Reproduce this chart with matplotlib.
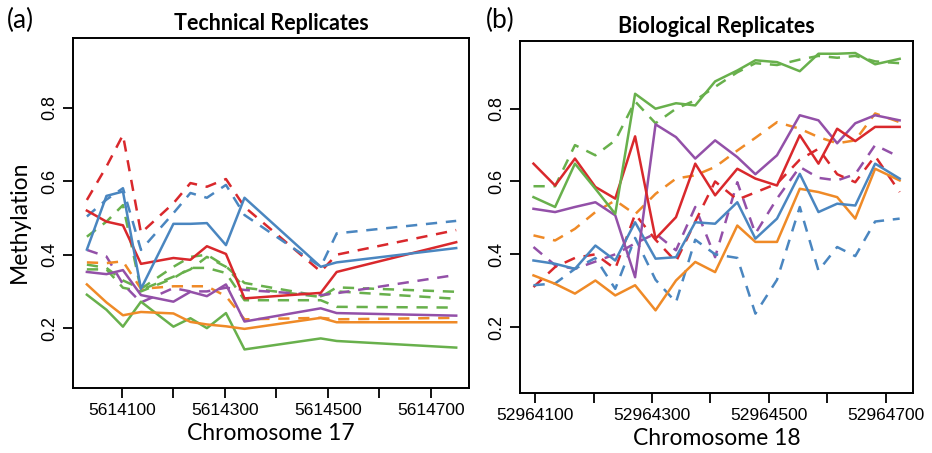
import numpy as np
import matplotlib.pyplot as plt

# CpG positions
pos_tech = [5614032, 5614070, 5614102, 5614137, 5614200, 5614233, 5614265,
            5614302, 5614338, 5614486, 5614517, 5614749]
pos_bio = [52964097, 52964134, 52964168, 52964203, 52964237, 52964271, 52964306,
           52964341, 52964374, 52964408, 52964446, 52964477, 52964514, 52964553,
           52964585, 52964617, 52964648, 52964682, 52964724]

# technical replicates (solid = rep 1, dashed = rep 2)
tech_red_1 = [0.520, 0.490, 0.480, 0.375, 0.391, 0.386, 0.423, 0.402, 0.281, 0.296, 0.353, 0.434]
tech_red_2 = [0.549, 0.640, 0.726, 0.459, 0.540, 0.595, 0.585, 0.606, 0.530, 0.354, 0.400, 0.467]
tech_blue_1 = [0.414, 0.560, 0.572, 0.307, 0.484, 0.484, 0.486, 0.426, 0.555, 0.367, 0.379, 0.418]
tech_blue_2 = [0.504, 0.550, 0.581, 0.413, 0.513, 0.568, 0.555, 0.590, 0.508, 0.367, 0.458, 0.492]
tech_green_1 = [0.291, 0.250, 0.204, 0.272, 0.204, 0.227, 0.200, 0.241, 0.142, 0.172, 0.165, 0.147]
tech_green_2 = [0.449, 0.490, 0.535, 0.304, 0.340, 0.360, 0.394, 0.367, 0.310, 0.285, 0.311, 0.299]
tech_green_3 = [0.373, 0.364, 0.330, 0.307, 0.367, 0.394, 0.400, 0.368, 0.323, 0.287, 0.300, 0.280]
tech_green_4 = [0.360, 0.360, 0.310, 0.300, 0.336, 0.364, 0.364, 0.350, 0.276, 0.276, 0.258, 0.256]
tech_purple_1 = [0.353, 0.347, 0.358, 0.290, 0.272, 0.299, 0.287, 0.319, 0.218, 0.254, 0.241, 0.234]
tech_purple_2 = [0.413, 0.395, 0.320, 0.270, 0.309, 0.300, 0.300, 0.310, 0.304, 0.290, 0.295, 0.345]
tech_orange_1 = [0.319, 0.270, 0.235, 0.244, 0.240, 0.217, 0.210, 0.205, 0.198, 0.228, 0.216, 0.216]
tech_orange_2 = [0.379, 0.377, 0.382, 0.307, 0.314, 0.314, 0.314, 0.287, 0.224, 0.228, 0.224, 0.228]

# biological replicates
bio_red_1 = [0.649, 0.589, 0.663, 0.585, 0.553, 0.724, 0.443, 0.502, 0.649, 0.562, 0.635,
             0.608, 0.589, 0.727, 0.649, 0.745, 0.711, 0.750, 0.750]
bio_red_2 = [0.310, 0.365, 0.390, 0.400, 0.360, 0.510, 0.440, 0.380, 0.490, 0.600, 0.550,
             0.570, 0.594, 0.660, 0.690, 0.620, 0.598, 0.670, 0.571]
bio_green_1 = [0.557, 0.530, 0.649, 0.580, 0.511, 0.841, 0.800, 0.815, 0.809, 0.875, 0.905,
               0.933, 0.928, 0.903, 0.951, 0.951, 0.953, 0.922, 0.937]
bio_green_2 = [0.587, 0.587, 0.700, 0.672, 0.713, 0.820, 0.760, 0.800, 0.823, 0.860, 0.900,
               0.925, 0.920, 0.935, 0.945, 0.940, 0.945, 0.930, 0.925]
bio_purple_1 = [0.525, 0.516, 0.530, 0.543, 0.507, 0.337, 0.757, 0.722, 0.663, 0.713, 0.667,
                0.620, 0.672, 0.782, 0.768, 0.705, 0.760, 0.782, 0.768]
bio_purple_2 = [0.420, 0.370, 0.360, 0.380, 0.400, 0.430, 0.457, 0.411, 0.530, 0.392, 0.598,
                0.457, 0.553, 0.640, 0.610, 0.603, 0.620, 0.700, 0.667]
bio_blue_1 = [0.383, 0.374, 0.360, 0.424, 0.383, 0.488, 0.388, 0.392, 0.488, 0.484, 0.543,
              0.443, 0.498, 0.621, 0.516, 0.539, 0.534, 0.649, 0.608]
bio_blue_2 = [0.315, 0.320, 0.360, 0.390, 0.305, 0.445, 0.330, 0.268, 0.440, 0.400, 0.390,
              0.237, 0.330, 0.530, 0.355, 0.420, 0.395, 0.490, 0.498]
bio_orange_1 = [0.342, 0.319, 0.292, 0.328, 0.287, 0.315, 0.246, 0.328, 0.379, 0.351, 0.479,
                0.434, 0.434, 0.580, 0.571, 0.557, 0.498, 0.635, 0.603]
bio_orange_2 = [0.452, 0.438, 0.470, 0.516, 0.548, 0.510, 0.566, 0.608, 0.617, 0.640, 0.685,
                0.720, 0.763, 0.745, 0.722, 0.705, 0.713, 0.787, 0.763]

red, blue, green, purple, orange = '#d9282c', '#4a86c0', '#68b04c', '#9350a8', '#ef8a27'

tech_lines = [
    (tech_green_2, green, '--'), (tech_green_3, green, '--'), (tech_green_4, green, '--'),
    (tech_purple_2, purple, '--'), (tech_orange_2, orange, '--'),
    (tech_red_2, red, '--'), (tech_blue_2, blue, '--'),
    (tech_green_1, green, '-'), (tech_orange_1, orange, '-'), (tech_purple_1, purple, '-'),
    (tech_red_1, red, '-'), (tech_blue_1, blue, '-'),
]
bio_lines = [
    (bio_green_2, green, '--'), (bio_orange_2, orange, '--'), (bio_purple_2, purple, '--'),
    (bio_red_2, red, '--'), (bio_blue_2, blue, '--'),
    (bio_orange_1, orange, '-'), (bio_blue_1, blue, '-'), (bio_purple_1, purple, '-'),
    (bio_red_1, red, '-'), (bio_green_1, green, '-'),
]

fig = plt.figure(figsize=(9.32, 4.53), dpi=100)
ax1 = fig.add_axes([0.0783, 0.1435, 0.425, 0.7726])
ax2 = fig.add_axes([0.558, 0.1325, 0.4217, 0.777])

def draw(ax, pos, lines, xlim, ylim, ticks, title, xlabel):
    for vals, col, ls in lines:
        if ls == '--':
            ax.plot(pos, vals, color=col, lw=1.8, dashes=(4.5, 3.5))
        else:
            ax.plot(pos, vals, color=col, lw=1.8)
    ax.set_xlim(*xlim)
    ax.set_ylim(*ylim)
    ax.set_xticks(ticks)
    ax.set_xticklabels([str(t) if i % 2 == 0 else '' for i, t in enumerate(ticks)],
                       family='Liberation Sans', fontsize=12.5)
    ax.set_yticks([0.2, 0.4, 0.6, 0.8])
    ax.set_yticklabels(['0.2', '0.4', '0.6', '0.8'], rotation=90, va='center',
                       family='Liberation Sans', fontsize=13)
    ax.tick_params(direction='out', length=7, width=1.3, colors='black')
    for s in ax.spines.values():
        s.set_linewidth(1.4)
    ax.set_title(title, fontsize=15.5, fontweight='bold', family='Lato', pad=6)
    ax.set_xlabel(xlabel, fontsize=16.5, family='Lato', labelpad=4)

draw(ax1, pos_tech, tech_lines, (5614005, 5614774), (0.037, 0.99),
     list(range(5614100, 5614800, 100)), 'Technical Replicates', 'Chromosome 17')
draw(ax2, pos_bio, bio_lines, (52964074, 52964747), (0.019, 0.986),
     list(range(52964100, 52964800, 100)), 'Biological Replicates', 'Chromosome 18')

fig.text(19 / 932, 0.51, 'Methylation', fontsize=16.5, family='Lato',
         rotation=90, ha='center', va='center')

fig.text(0.007, 0.955, '(a)', fontsize=19, family='Lato', va='center')
fig.text(0.521, 0.955, '(b)', fontsize=19, family='Lato', va='center')

fig.savefig('out.png', dpi=100)
